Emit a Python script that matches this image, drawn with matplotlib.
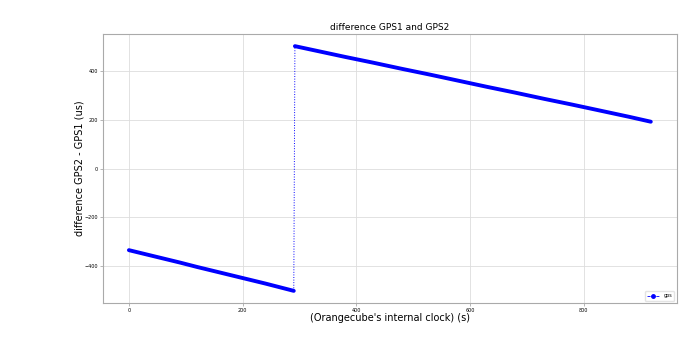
import matplotlib
matplotlib.use("Agg")
import matplotlib.pyplot as plt
from matplotlib.lines import Line2D

# values (time in s, difference in us)
seg1_t = [0, 30, 60, 90, 120, 150, 180, 210, 240, 270, 290]
seg1_diff = [-335, -352, -369, -386, -404, -421, -438, -455, -472, -490, -502]
seg2_t = [292, 330, 380, 430, 480, 530, 580, 630, 680, 730, 780, 830, 880, 918]
seg2_diff = [502, 483, 458, 434, 409, 385, 360, 335, 311, 286, 262, 237, 212, 192]

fig = plt.figure(figsize=(6.9, 3.57), dpi=100)
ax = fig.add_axes([0.149, 0.151, 0.832, 0.754])

# dense samples -> thick blue band, thin dashed line across the jump
ax.plot(seg1_t, seg1_diff, "-", color="blue", lw=2.8, solid_capstyle="round")
ax.plot(seg2_t, seg2_diff, "-", color="blue", lw=2.8, solid_capstyle="round")
ax.plot([seg1_t[-1], seg2_t[0]], [seg1_diff[-1], seg2_diff[0]], ":", color="blue", lw=0.7)

ax.set_xticks([0, 200, 400, 600, 800])
ax.set_yticks([-400, -200, 0, 200, 400])
ax.tick_params(labelsize=3.5, length=2, width=0.5, color="#999999", pad=1.5)
ax.grid(color="#dddddd", lw=0.6)
for s in ax.spines.values():
    s.set_color("#aaaaaa")
    s.set_linewidth(0.8)

ax.set_title("difference GPS1 and GPS2", fontsize=6.5, pad=3)
ax.set_xlabel("(Orangecube's internal clock) (s)", fontsize=7, labelpad=0)
ax.set_ylabel("difference GPS2 - GPS1 (us)", fontsize=7, labelpad=0)

handle = Line2D([], [], color="blue", ls="--", lw=0.6, marker="o", ms=2.5)
ax.legend([handle], ["gps"], loc="lower right", fontsize=3.5, handlelength=2.5,
          borderpad=0.5, framealpha=0.8, edgecolor="#dddddd")

fig.savefig("out.png", dpi=100)
